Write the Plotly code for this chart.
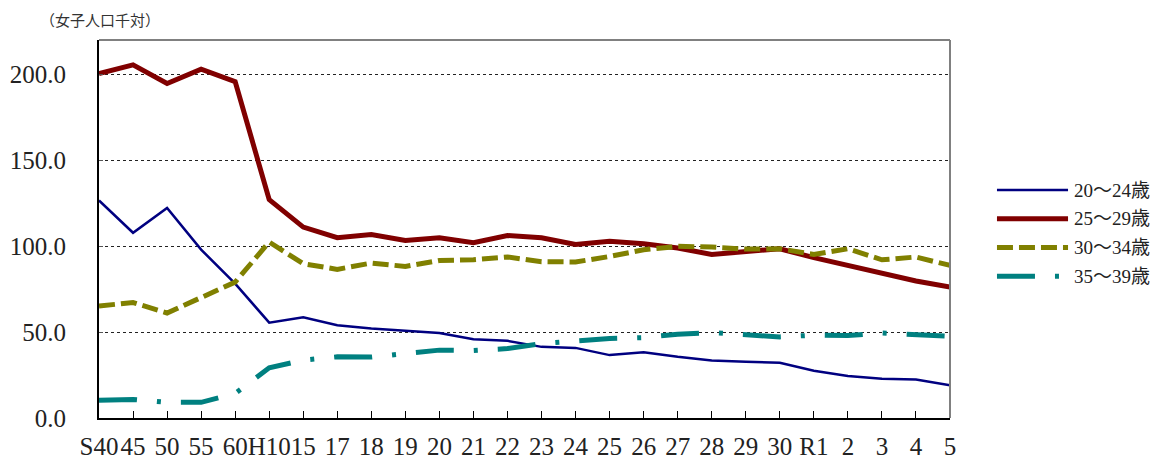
import plotly.graph_objects as go

categories = ["S40", "45", "50", "55", "60", "H10", "15", "17", "18", "19", "20", "21", "22",
              "23", "24", "25", "26", "27", "28", "29", "30", "R1", "2", "3", "4", "5"]

age_20_24 = [126.6, 107.8, 122.3, 98.0, 78.2, 55.5, 58.6, 54.0, 52.1, 50.8, 49.5, 45.9, 44.9,
             41.4, 40.8, 36.6, 38.3, 35.6, 33.5, 32.7, 32.1, 27.5, 24.4, 22.8, 22.4, 19.0]
age_25_29 = [200.5, 205.5, 194.7, 203.0, 195.8, 127.1, 111.1, 104.9, 106.8, 103.3, 104.9, 102.0, 106.2,
             104.9, 101.0, 102.8, 101.4, 98.9, 95.2, 97.1, 98.5, 93.3, 88.8, 84.0, 79.7, 76.2]
age_30_34 = [65.2, 67.2, 61.1, 70.4, 79.1, 102.4, 89.8, 86.5, 90.2, 88.2, 91.7, 92.1, 93.7,
             91.0, 90.8, 94.0, 97.9, 99.9, 99.5, 98.3, 98.5, 95.2, 98.5, 92.1, 93.7, 88.8]
age_35_39 = [10.4, 10.8, 9.1, 9.1, 14.3, 29.2, 33.7, 35.6, 35.5, 37.2, 39.5, 39.3, 40.4,
             43.3, 44.9, 46.3, 46.8, 48.8, 49.7, 48.8, 47.2, 48.2, 48.0, 49.5, 48.8, 47.6]

series_names = ["20～24歳", "25～29歳", "30～34歳", "35～39歳"]
series_values = [age_20_24, age_25_29, age_30_34, age_35_39]
colors = ["#000080", "#800000", "#808000", "#008080"]
widths = [2.5, 5, 5, 5]
dashes = ["solid", "solid", "16px,6px", "38px,20px,4px,20px"]

y_ticks = [0, 50, 100, 150, 200]

NUM_FONT = "Liberation Serif, Noto Sans CJK JP"
CJK_FONT = "Noto Sans CJK JP"

fig = go.Figure()
for name, vals, c, w, d in zip(series_names, series_values, colors, widths, dashes):
    fig.add_trace(go.Scatter(
        x=categories, y=vals, mode="lines", name=name,
        line=dict(color=c, width=w, dash=d),
        showlegend=False,
    ))

# manual legend (long line samples as in the reference)
legend_y = [0.603, 0.527, 0.451, 0.375]
shapes = []
annotations = []
for name, c, w, d, ly in zip(series_names, colors, widths, dashes, legend_y):
    shapes.append(dict(type="line", xref="paper", yref="paper",
                       x0=1.0552, x1=1.1387, y0=ly, y1=ly,
                       line=dict(color=c, width=w, dash=d)))
    annotations.append(dict(xref="paper", yref="paper", x=1.1434, y=ly,
                            xanchor="left", yanchor="middle", showarrow=False,
                            text=name, font=dict(family=NUM_FONT, size=19, color="#222")))

# top and right gray frame
shapes.append(dict(type="line", xref="paper", yref="paper", x0=0, x1=1, y0=1, y1=1,
                   line=dict(color="#808080", width=2), layer="above"))
shapes.append(dict(type="line", xref="paper", yref="paper", x0=1, x1=1, y0=0, y1=1,
                   line=dict(color="#808080", width=2), layer="above"))

annotations.append(dict(xref="paper", yref="paper", x=-0.0717, y=1.053,
                        xanchor="left", yanchor="middle", showarrow=False,
                        text="（女子人口千対）", font=dict(family=CJK_FONT, size=15, color="#333")))

fig.update_layout(
    width=1153, height=460,
    margin=dict(l=99, r=203, t=40, b=42, autoexpand=False),
    paper_bgcolor="white", plot_bgcolor="white",
    shapes=shapes, annotations=annotations,
    showlegend=False,
    xaxis=dict(
        type="category", range=[0, 25], showgrid=False, automargin=False,
        showline=True, linecolor="#000", linewidth=2,
        ticks="inside", ticklen=7, tickcolor="#000", tickwidth=1,
        tickangle=0, ticklabelstandoff=5,
        tickfont=dict(family=NUM_FONT, size=25, color="#222"),
        zeroline=False,
    ),
    yaxis=dict(
        range=[0, 220], tickvals=y_ticks, tickformat=".1f", automargin=False,
        showgrid=True, gridcolor="#222", gridwidth=1, griddash="dot",
        showline=True, linecolor="#000", linewidth=2,
        ticks="inside", ticklen=4, tickcolor="#555",
        ticklabelstandoff=26,
        tickfont=dict(family=NUM_FONT, size=25, color="#222"),
        zeroline=False,
    ),
)

fig.write_html(
    "out.html",
    config={"displayModeBar": False},
    post_script="document.body.style.margin='0';document.body.style.overflow='hidden';",
)
